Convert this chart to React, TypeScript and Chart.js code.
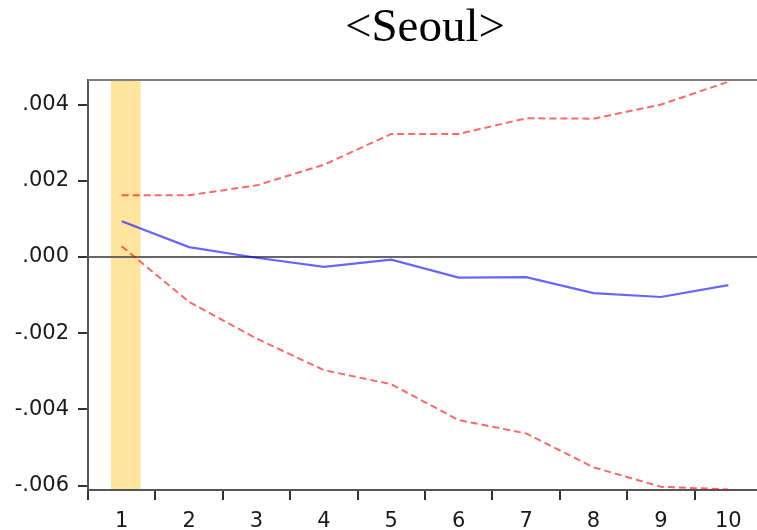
import { useEffect, useRef } from 'react';
import { Chart, registerables } from 'chart.js';

Chart.register(...registerables);

const titleText = '<Seoul>';
const periods = ['1', '2', '3', '4', '5', '6', '7', '8', '9', '10'];
const response = [0.00094, 0.00026, -0.00002, -0.00026, -0.00007, -0.00054, -0.00053, -0.00095, -0.00105, -0.00074];
const upperBand = [0.00162, 0.00162, 0.00188, 0.00242, 0.00323, 0.00323, 0.00364, 0.00363, 0.00400, 0.00460];
const lowerBand = [0.00028, -0.00118, -0.00214, -0.00297, -0.00334, -0.00428, -0.00463, -0.00552, -0.00603, -0.00610];
const yTickValues = [0.004, 0.002, 0, -0.002, -0.004, -0.006];
const yTickLabels = ['.004', '.002', '.000', '-.002', '-.004', '-.006'];
const yMin = -0.006115;
const yMax = 0.004645;
const shadeFrom = 0.84;
const shadeTo = 1.28;

export default function App() {
  const ref = useRef<HTMLCanvasElement>(null);

  useEffect(() => {
    const canvas = ref.current;
    if (!canvas) return;

    const shadePlugin = {
      id: 'shade',
      beforeDraw(chart: any) {
        const { ctx, chartArea, scales } = chart;
        const x = scales.x;
        const p0 = x.getPixelForValue(0);
        const step = x.getPixelForValue(1) - p0;
        const xa = p0 + (shadeFrom - 1) * step;
        const xb = p0 + (shadeTo - 1) * step;
        ctx.save();
        ctx.fillStyle = '#FEE49C';
        ctx.fillRect(xa, chartArea.top, xb - xa, chartArea.bottom - chartArea.top);
        ctx.restore();
      },
      afterDraw(chart: any) {
        const { ctx, chartArea } = chart;
        ctx.save();
        ctx.strokeStyle = '#808080';
        ctx.lineWidth = 2;
        ctx.beginPath();
        ctx.moveTo(chartArea.left, chartArea.top);
        ctx.lineTo(chartArea.right, chartArea.top);
        ctx.stroke();
        ctx.restore();
      },
    };

    const tickFont = { family: 'DejaVu Sans', size: 21 };

    const chart = new Chart(canvas, {
      type: 'line',
      data: {
        labels: periods,
        datasets: [
          {
            data: upperBand,
            borderColor: 'rgba(255,0,0,0.6)',
            borderWidth: 2,
            borderDash: [7, 4],
            pointRadius: 0,
            tension: 0,
            fill: false,
          },
          {
            data: response,
            borderColor: 'rgba(0,0,255,0.6)',
            borderWidth: 2.2,
            pointRadius: 0,
            tension: 0,
            fill: false,
          },
          {
            data: lowerBand,
            borderColor: 'rgba(255,0,0,0.6)',
            borderWidth: 2,
            borderDash: [7, 4],
            pointRadius: 0,
            tension: 0,
            fill: false,
          },
        ],
      },
      options: {
        animation: false,
        responsive: false,
        devicePixelRatio: 1,
        layout: { padding: 0 },
        plugins: {
          legend: { display: false },
          tooltip: { enabled: false },
          title: {
            display: true,
            text: titleText,
            fullSize: false,
            color: '#000',
            font: { family: 'Liberation Serif', size: 47, weight: 'normal', lineHeight: 1 },
            padding: { top: 5, bottom: 28 },
          },
        },
        scales: {
          x: {
            type: 'category',
            offset: true,
            grid: {
              offset: true,
              drawOnChartArea: false,
              drawTicks: true,
              tickLength: 10,
              tickColor: '#333',
              lineWidth: 2,
            },
            border: { color: '#555', width: 2 },
            ticks: { font: tickFont, color: '#1a1a1a', padding: 9, maxRotation: 0, autoSkip: false },
            afterFit(s: any) {
              s.height = 40;
            },
          },
          y: {
            type: 'linear',
            min: yMin,
            max: yMax,
            afterBuildTicks(s: any) {
              s.ticks = yTickValues.map((v) => ({ value: v }));
            },
            ticks: {
              font: tickFont,
              color: '#1a1a1a',
              padding: 9,
              callback: (_v: any, i: number) => yTickLabels[i],
            },
            grid: {
              drawOnChartArea: true,
              color: (c: any) => (c.tick && c.tick.value === 0 ? '#666' : 'rgba(0,0,0,0)'),
              tickColor: '#333',
              tickLength: 10,
              lineWidth: 2,
            },
            border: { color: '#555', width: 2 },
            afterFit(s: any) {
              s.width = 88;
            },
          },
        },
      },
      plugins: [shadePlugin],
    });

    return () => chart.destroy();
  }, []);

  return (
    <div style={{ position: 'absolute', left: 0, top: 0, width: 757, height: 530, overflow: 'hidden', background: '#fff' }}>
      <canvas ref={ref} width={762} height={530} style={{ display: 'block' }} />
    </div>
  );
}
